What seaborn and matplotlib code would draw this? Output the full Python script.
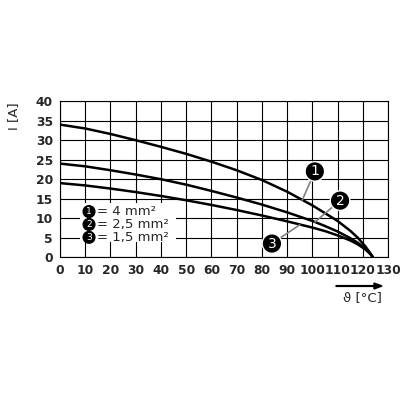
import matplotlib
matplotlib.use("Agg")
import matplotlib.pyplot as plt
import seaborn as sns

sns.set_style("white")
plt.rcParams['font.family'] = ['DejaVu Sans']

xs_all = [0, 10, 20, 30, 40, 50, 60, 70, 80, 90, 100, 105, 110, 115, 118, 121, 123, 124]
y1 = [34, 33, 31.6, 30, 28.3, 26.5, 24.5, 22.3, 19.8, 16.8, 13.3, 11.3, 9.3, 6.8, 5, 2.8, 1, 0]
y2 = [24, 23.3, 22.3, 21.2, 20, 18.6, 17, 15.3, 13.5, 11.5, 9.3, 8, 6.6, 4.9, 3.7, 2.2, 0.9, 0]
y3 = [19, 18.4, 17.6, 16.7, 15.7, 14.6, 13.4, 12.1, 10.7, 9.2, 7.6, 6.7, 5.6, 4.3, 3.3, 2, 0.8, 0]
labels = ["1", "2", "3"]
legend_text = ["= 4 mm²", "= 2,5 mm²", "= 1,5 mm²"]

fig = plt.figure(figsize=(4, 4), dpi=100)
ax = fig.add_axes([0.15, 0.357, 0.82, 0.39])
for ys in [y1, y2, y3]:
    sns.lineplot(x=xs_all, y=ys, ax=ax, color="black", lw=1.8)
ax.set_xlim(0, 130)
ax.set_ylim(0, 40)
ax.set_xticks(range(0, 131, 10))
ax.set_yticks(range(0, 41, 5))
ax.grid(True, color="black", lw=0.8)
for s in ax.spines.values():
    s.set_color("black")
ax.tick_params(length=0, labelsize=8.8, pad=5)
for t in ax.get_xticklabels() + ax.get_yticklabels():
    t.set_fontweight("bold")

circ = [(101, 22, 96, 14.6), (111, 14.5, 101, 9.0), (84, 3.5, 95, 8.3)]
for (cx, cy, tx, ty), lab in zip(circ, labels):
    ax.plot([cx, tx], [cy, ty], color="gray", lw=1.2)
    ax.text(cx, cy, lab, ha="center", va="center", color="white", fontsize=10,
            bbox=dict(boxstyle="circle,pad=0.2", fc="black", ec="white"))

ax.add_patch(plt.Rectangle((8, 3.8), 38, 10, fc="white", ec="none", zorder=3))
for i, (lab, t) in enumerate(zip(labels, legend_text)):
    yy = 11.7 - i * 3.3
    ax.text(11.5, yy, lab, ha="center", va="center", color="white", fontsize=6.5, zorder=4,
            bbox=dict(boxstyle="circle,pad=0.15", fc="black", ec="black"))
    ax.text(14.5, yy, t, ha="left", va="center", fontsize=9.5, zorder=4)

fig.text(0.035, 0.71, "I [A]", rotation=90, ha="center", va="center", fontsize=9.5)
fig.text(0.955, 0.255, "ϑ [°C]", ha="right", va="center", fontsize=9.5)
fig.add_artist(matplotlib.patches.FancyArrow(0.84, 0.285, 0.115, 0, width=0.002,
               head_width=0.015, head_length=0.02, color="black", transform=fig.transFigure,
               length_includes_head=True))
fig.savefig("out.png")
